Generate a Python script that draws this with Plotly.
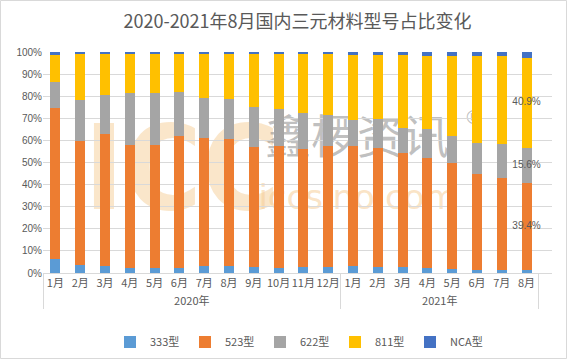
import plotly.graph_objects as go

years = ["2020年"] * 12 + ["2021年"] * 8
months = ["1月", "2月", "3月", "4月", "5月", "6月", "7月", "8月", "9月", "10月", "11月", "12月",
          "1月", "2月", "3月", "4月", "5月", "6月", "7月", "8月"]

s333 = [6.3, 3.6, 3.3, 2.4, 2.4, 2.4, 3.0, 3.3, 2.7, 2.4, 2.7, 2.7,
        3.0, 2.7, 2.6, 2.1, 1.8, 1.5, 1.5, 1.5]
s523 = [68.4, 56.2, 59.4, 55.5, 55.5, 59.6, 58.2, 57.5, 54.4, 55.0, 53.4, 54.7,
        54.4, 54.0, 51.8, 50.1, 47.8, 43.2, 41.7, 39.4]
s622 = [11.8, 18.4, 17.8, 23.6, 23.6, 20.0, 18.0, 17.8, 18.1, 16.7, 16.1, 14.0,
        11.8, 12.9, 11.3, 12.8, 12.4, 14.2, 15.1, 15.6]
s811 = [12.3, 20.7, 18.4, 18.0, 18.0, 17.5, 19.7, 20.3, 23.7, 24.8, 26.7, 27.5,
        29.3, 28.9, 32.8, 33.2, 36.2, 39.3, 39.7, 40.9]
sNCA = [1.2, 1.1, 1.1, 0.5, 0.5, 0.5, 1.1, 1.1, 1.1, 1.1, 1.1, 1.1,
        1.5, 1.5, 1.5, 1.8, 1.8, 1.8, 2.0, 2.6]

series_names = ["333型", "523型", "622型", "811型", "NCA型"]
series_vals = [s333, s523, s622, s811, sNCA]
colors = ["#5B9BD5", "#ED7D31", "#A5A5A5", "#FFC000", "#4472C4"]

title = "2020-2021年8月国内三元材料型号占比变化"
ytickvals = [i / 10 for i in range(11)]
yticktext = [f"{i * 10}%" for i in range(11)]

W, H = 567, 359
ml, mr, mt, mb = 43, 15, 52, 86
TXT = "#595959"

fig = go.Figure()
for name, vals, col in zip(series_names, series_vals, colors):
    fig.add_trace(go.Bar(
        x=[years, months], y=[v / 100 for v in vals], name=name,
        marker=dict(color=col, line=dict(width=0)),
        hoverinfo="skip",
    ))

# data labels on the last bar (523, 622, 811)
last = len(months) - 1
cum = 0.0
lab_x0, lab_x1, lab_y, lab_t = [], [], [], []
for name, vals in zip(series_names, series_vals):
    v = vals[last]
    if name in ("523型", "622型", "811型"):
        lab_x0.append(years[last]); lab_x1.append(months[last])
        lab_y.append((cum + v / 2) / 100)
        lab_t.append(f"{v:.1f}%")
    cum += v
fig.add_trace(go.Scatter(
    x=[lab_x0, lab_x1], y=lab_y, text=lab_t, mode="text",
    textfont=dict(size=10, color=TXT, family="Liberation Sans, Arial, sans-serif"),
    showlegend=False, hoverinfo="skip",
))

# watermark (drawn behind the bars, in the subplot's lower shape layer)
PW = W - ml - mr
PH = H - mt - mb


def px_to_paper_x(px):
    return (px - ml) / PW


def px_to_y(py):
    return (H - mb - py) / PH


def wm(text, cx, cy, size, color, family, w=200, h=60):
    fig.add_shape(
        type="rect", xref="paper", yref="y", layer="below",
        x0=px_to_paper_x(cx - w / 2), x1=px_to_paper_x(cx + w / 2),
        y0=px_to_y(cy + h / 2), y1=px_to_y(cy - h / 2),
        line=dict(width=0), fillcolor="rgba(0,0,0,0)",
        label=dict(text=text, textposition="middle center",
                   font=dict(size=size, color=color, family=family)),
    )


wm("<b>ICC</b>", 182, 160, 118, "rgba(246,205,150,0.5)",
   "Liberation Sans Narrow, DejaVu Sans Condensed, sans-serif", 200, 120)
wm("鑫椤资讯", 357, 140, 46, "rgba(150,150,150,0.6)", "Noto Sans CJK SC", 220, 60)
wm("®", 474, 116, 20, "rgba(150,150,150,0.6)", "DejaVu Sans", 30, 30)
wm("iccsino.com", 358, 195, 34, "rgba(246,205,150,0.55)", "DejaVu Sans", 220, 40)

fig.update_layout(
    width=W, height=H,
    margin=dict(l=ml, r=mr, t=mt, b=mb, autoexpand=False),
    paper_bgcolor="white", plot_bgcolor="white",
    barmode="stack", bargap=0.6,
    title=dict(text=title, x=0.5, xref="paper", xanchor="center", y=1 - 22 / H, yanchor="middle",
               font=dict(size=18, color=TXT, family="Noto Sans CJK SC, sans-serif")),
    font=dict(family="Noto Sans CJK SC, sans-serif", color=TXT),
    legend=dict(orientation="h", x=0.5, xanchor="center", y=-(342 - (H - mb)) / PH, yanchor="middle",
                traceorder="normal", font=dict(size=11, color=TXT), itemwidth=30,
                entrywidth=30, entrywidthmode="pixels",
                bgcolor="rgba(0,0,0,0)"),
    showlegend=True,
)
fig.update_xaxes(
    type="multicategory", tickangle=0, automargin=False,
    showline=True, linecolor="#D9D9D9", linewidth=1,
    showdividers=True, dividercolor="#D9D9D9", dividerwidth=1,
    tickfont=dict(size=11, color=TXT),
    showgrid=False, ticks="",
)
fig.update_yaxes(
    range=[0, 1], tickvals=ytickvals, ticktext=yticktext, automargin=False,
    showgrid=True, gridcolor="#D9D9D9", gridwidth=1,
    zeroline=False, showline=False,
    tickfont=dict(size=10, color=TXT, family="Liberation Sans, Arial, sans-serif"),
)

# thin frame around the whole chart
fig.add_shape(type="rect", xref="paper", yref="paper",
              x0=px_to_paper_x(0.5), x1=px_to_paper_x(W - 0.5),
              y0=(H - mb - (H - 0.5)) / PH, y1=(H - mb - 0.5) / PH,
              line=dict(color="#D9D9D9", width=1), fillcolor="rgba(0,0,0,0)", layer="above")

fig.write_html("out.html", config={"displayModeBar": False},
               post_script="document.body.style.margin='0';document.body.style.padding='0';")
